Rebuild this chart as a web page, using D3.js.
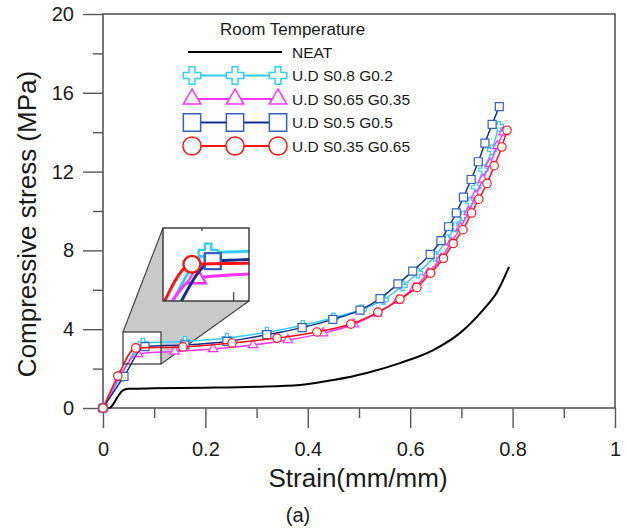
<!DOCTYPE html>
<html lang="en">
<head>
<meta charset="UTF-8">
<title>Compressive stress vs strain</title>
<style>
  body { margin: 0; background: #fff; }
  text { font-family: Arial, "Liberation Sans", sans-serif; fill: #1a1a1a; }
</style>
</head>
<body>
<script src="https://d3js.org/d3.v7.min.js"></script>
<script>
// strain (mm/mm), stress (MPa)
let neat = [[0,0],[0.012,0],[0.02,0.2],[0.03,0.62],[0.038,0.88],[0.05,0.98],[0.1,1.0],[0.2,1.03],
  [0.3,1.08],[0.385,1.17],[0.45,1.42],[0.515,1.78],[0.58,2.28],[0.645,2.94],[0.697,3.8],
  [0.742,4.97],[0.77,5.9],[0.793,7.16]];
let s08g02 = [[0,0],[0.035,1.6],[0.078,3.3],[0.16,3.38],[0.242,3.55],[0.32,3.85],[0.39,4.2],
  [0.45,4.58],[0.505,5.0],[0.548,5.5],[0.585,6.2],[0.615,6.85],[0.648,7.7],[0.672,8.55],
  [0.688,9.2],[0.703,9.75],[0.717,10.45],[0.729,11.2],[0.743,12.1],[0.76,13.1],[0.773,14.3]];
let s065g035 = [[0,0],[0.032,1.6],[0.068,2.75],[0.14,2.87],[0.215,3.0],[0.293,3.2],[0.361,3.45],
  [0.43,3.8],[0.49,4.25],[0.535,4.8],[0.575,5.45],[0.608,6.1],[0.635,6.85],[0.66,7.6],
  [0.68,8.4],[0.698,9.15],[0.714,9.95],[0.728,10.8],[0.742,11.6],[0.756,12.4],[0.77,13.3],[0.782,14.0]];
let s05g05 = [[0,0],[0.041,1.6],[0.082,3.12],[0.16,3.2],[0.242,3.38],[0.32,3.72],[0.389,4.08],
  [0.449,4.5],[0.502,4.97],[0.541,5.55],[0.576,6.3],[0.605,6.95],[0.639,7.8],[0.66,8.5],
  [0.675,9.2],[0.69,9.9],[0.704,10.7],[0.719,11.6],[0.733,12.5],[0.746,13.45],[0.76,14.4],[0.774,15.3]];
let s035g065 = [[0,0],[0.029,1.62],[0.064,3.05],[0.156,3.1],[0.252,3.3],[0.34,3.55],[0.418,3.86],
  [0.484,4.26],[0.537,4.87],[0.58,5.53],[0.613,6.12],[0.64,6.85],[0.665,7.6],[0.684,8.35],
  [0.703,9.05],[0.72,9.9],[0.734,10.6],[0.75,11.4],[0.764,12.3],[0.779,13.25],[0.789,14.1]];

let seriesNames = ["U.D S0.8 G0.2", "U.D S0.65 G0.35", "U.D S0.5 G0.5", "U.D S0.35 G0.65"];
let xMajor = [0, 0.2, 0.4, 0.6, 0.8, 1];
let xMinor = [0.1, 0.3, 0.5, 0.7, 0.9];
let yMajor = [0, 4, 8, 12, 16, 20];
let yMinor = [2, 6, 10, 14, 18];

let series = [
  { name: seriesNames[0], data: s08g02,   line: "#33ccff", mark: "#33ccff", sym: d3.symbolCross,    size: 50,  lsize: 170 },
  { name: seriesNames[1], data: s065g035, line: "#ff33ff", mark: "#ff33ff", sym: d3.symbolTriangle, size: 38,  lsize: 130 },
  { name: seriesNames[2], data: s05g05,   line: "#13308f", mark: "#3560bb", sym: d3.symbolSquare,   size: 64,  lsize: 300 },
  { name: seriesNames[3], data: s035g065, line: "#ff1111", mark: "#ff1111", sym: d3.symbolCircle,   size: 56,  lsize: 260 }
];

let W = 627, H = 529;
let svg = d3.select("body").append("svg").attr("width", W).attr("height", H);

let x = d3.scaleLinear().domain([0, 1]).range([103, 615]);
let y = d3.scaleLinear().domain([0, 20]).range([408, 14]);

// axes
let axisCol = "#555";
function styleAxis(g) {
  g.select(".domain").remove();
  g.selectAll("line").attr("stroke", axisCol).attr("stroke-width", 1.4);
  g.selectAll("text").style("font-size", "20px").attr("fill", "#1a1a1a");
}
svg.append("g").attr("transform", "translate(103,0)")
  .call(d3.axisLeft(y).tickValues(yMajor).tickSize(20).tickPadding(9)).call(styleAxis);
svg.append("g").attr("transform", "translate(103,0)")
  .call(d3.axisLeft(y).tickValues(yMinor).tickSize(10).tickFormat("")).call(styleAxis);
svg.append("g").attr("transform", "translate(0,408)")
  .call(d3.axisBottom(x).tickValues(xMajor).tickSize(20).tickPadding(14).tickFormat(d => d)).call(styleAxis);
svg.append("g").attr("transform", "translate(0,408)")
  .call(d3.axisBottom(x).tickValues(xMinor).tickSize(10).tickFormat("")).call(styleAxis);

svg.append("rect").attr("x", 103).attr("y", 14).attr("width", 512).attr("height", 394)
  .attr("fill", "none").attr("stroke", axisCol).attr("stroke-width", 1.6);

svg.append("text").attr("x", 358).attr("y", 487).attr("text-anchor", "middle")
  .style("font-size", "26px").text("Strain(mm/mm)");
svg.append("text").attr("x", 298).attr("y", 522).attr("text-anchor", "middle")
  .style("font-size", "20px").text("(a)");
svg.append("text").attr("transform", "translate(36,224) rotate(-90)").attr("text-anchor", "middle")
  .style("font-size", "26px").text("Compressive stress (MPa)");

// zoom box connector
let sb = { x0: 123, y0: 332, x1: 161, y1: 364 };
let bb = { x0: 163, y0: 228, x1: 249, y1: 301 };
svg.append("polygon")
  .attr("points", [[sb.x0, sb.y0], [bb.x0, bb.y0], [bb.x1, bb.y0], [bb.x1, bb.y1], [sb.x1, sb.y1], [sb.x1, sb.y0]].join(" "))
  .attr("fill", "#c9c9c9");
svg.append("rect").attr("x", sb.x0).attr("y", sb.y0).attr("width", sb.x1 - sb.x0).attr("height", sb.y1 - sb.y0)
  .attr("fill", "#fff");
svg.append("line").attr("x1", sb.x0).attr("y1", sb.y0).attr("x2", bb.x0).attr("y2", bb.y0)
  .attr("stroke", "#444").attr("stroke-width", 1.2);
svg.append("line").attr("x1", sb.x1).attr("y1", sb.y1).attr("x2", bb.x1).attr("y2", bb.y1)
  .attr("stroke", "#444").attr("stroke-width", 1.2);

function drawSeries(g, xs, ys, k) {
  g.append("path").datum(neat)
    .attr("d", d3.line().x(d => xs(d[0])).y(d => ys(d[1])).curve(d3.curveMonotoneX))
    .attr("fill", "none").attr("stroke", "#000").attr("stroke-width", 2 * k);
  series.forEach(s => {
    g.append("path").datum(s.data)
      .attr("d", d3.line().x(d => xs(d[0])).y(d => ys(d[1])).curve(d3.curveMonotoneX))
      .attr("fill", "none").attr("stroke", s.line).attr("stroke-width", 1.5 * k);
    g.selectAll(null).data(s.data).join("path")
      .attr("transform", d => "translate(" + xs(d[0]) + "," + ys(d[1]) + ")")
      .attr("d", d3.symbol().type(s.sym).size(s.size * k * k))
      .attr("fill", "#fff").attr("stroke", s.mark).attr("stroke-width", 1.2 * k);
  });
}

let plot = svg.append("g");
drawSeries(plot, x, y, 1);

svg.append("rect").attr("x", sb.x0).attr("y", sb.y0).attr("width", sb.x1 - sb.x0).attr("height", sb.y1 - sb.y0)
  .attr("fill", "none").attr("stroke", "#333").attr("stroke-width", 1.2);

// magnified inset
let xi = d3.scaleLinear().domain([x.invert(sb.x0), x.invert(sb.x1)]).range([bb.x0, bb.x1]);
let yi = d3.scaleLinear().domain([y.invert(sb.y1), y.invert(sb.y0)]).range([bb.y1, bb.y0]);
svg.append("clipPath").attr("id", "insetClip").append("rect")
  .attr("x", bb.x0).attr("y", bb.y0).attr("width", bb.x1 - bb.x0).attr("height", bb.y1 - bb.y0);
let inset = svg.append("g").attr("clip-path", "url(#insetClip)");
inset.append("rect").attr("x", bb.x0).attr("y", bb.y0).attr("width", bb.x1 - bb.x0).attr("height", bb.y1 - bb.y0)
  .attr("fill", "#fff");
drawSeries(inset, xi, yi, 2.0);
inset.append("line").attr("x1", xi(0.1)).attr("x2", xi(0.1)).attr("y1", bb.y1).attr("y2", bb.y1 - 9)
  .attr("stroke", "#555").attr("stroke-width", 1.4);
inset.append("line").attr("x1", 202).attr("x2", 202).attr("y1", bb.y0).attr("y2", bb.y0 + 3)
  .attr("stroke", "#555").attr("stroke-width", 1.4);
svg.append("rect").attr("x", bb.x0).attr("y", bb.y0).attr("width", bb.x1 - bb.x0).attr("height", bb.y1 - bb.y0)
  .attr("fill", "none").attr("stroke", "#333").attr("stroke-width", 1.4);

// legend
let leg = svg.append("g");
leg.append("text").attr("x", 220).attr("y", 35).style("font-size", "17px").text("Room Temperature");
let rowY = [52, 75.5, 99, 122.5, 146];
leg.append("line").attr("x1", 188).attr("x2", 282).attr("y1", rowY[0]).attr("y2", rowY[0])
  .attr("stroke", "#000").attr("stroke-width", 2);
leg.append("text").attr("x", 292).attr("y", rowY[0] + 5.5).style("font-size", "15.5px").text("NEAT");
series.forEach((s, i) => {
  let ry = rowY[i + 1];
  leg.append("line").attr("x1", 192).attr("x2", 278).attr("y1", ry).attr("y2", ry)
    .attr("stroke", s.line).attr("stroke-width", 2);
  leg.selectAll(null).data([192, 235, 278]).join("path")
    .attr("transform", d => "translate(" + d + "," + ry + ")")
    .attr("d", d3.symbol().type(s.sym).size(s.lsize))
    .attr("fill", "#fff").attr("stroke", s.mark).attr("stroke-width", 1.5);
  leg.append("text").attr("x", 292).attr("y", ry + 5.5).style("font-size", "15.5px").text(s.name);
});
</script>
</body>
</html>
